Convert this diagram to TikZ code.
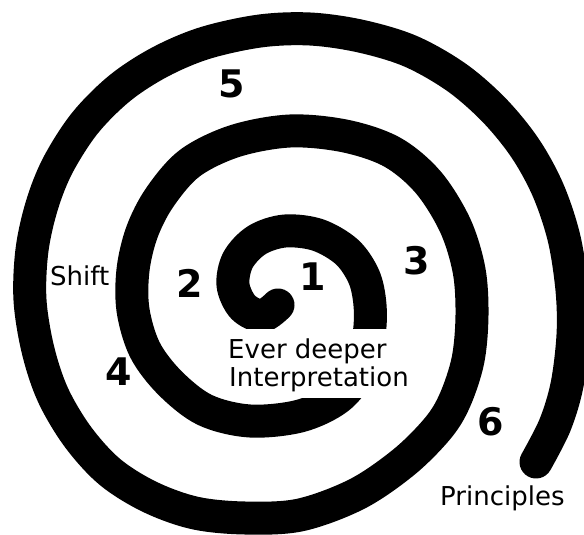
\documentclass[tikz,border=0pt]{standalone}
\usepackage{fontspec}
\newfontfamily\labfont{DejaVu Sans}
\begin{document}
\begin{tikzpicture}[x=1pt,y=-1pt,
  lbl/.style={font=\labfont\fontsize{26}{28}\selectfont, inner sep=0pt, text=black},
  num/.style={font=\labfont\bfseries\fontsize{38}{40}\selectfont, inner sep=0pt, text=black},
  brush/.style={line width=33pt, line cap=round, line join=round, black}]
\useasboundingbox (0,0) rectangle (584,535);
\fill[white] (0,0) rectangle (584,535);
% spiral
\draw[brush] plot[smooth, tension=0.55] coordinates {
(278,305) (262,316) (243,307) (233,285) (238,260) (257,240) (285,231) (318,235)
(347,252) (364,277) (370,305) (369,335) (360,370) (338,398) (300,416) (250,421)
(205,410) (170,383) (145,350) (133,310) (133,270) (142,232) (160,197) (190,163)
(235,141) (290,131) (345,136) (392,152) (428,182) (455,225) (469,270) (472,315)
(468,360) (455,400) (438,428) (404,462) (357,494) (300,515) (245,518) (195,513)
(150,497) (110,472) (78,437) (53,395) (38,350) (30,300) (32,250) (42,205)
(58,165) (85,123) (120,88) (160,62) (205,43) (260,31) (310,29) (360,36)
(410,51) (456,77) (494,110) (525,148) (548,190) (564,238) (572,290) (573,335)
(567,385) (555,425) (536,462)};
% white label box
\fill[white] (228,329) rectangle (418,398);
\node[lbl, anchor=base west] (ever) at (228,358) {Ever deeper};
\node[lbl, anchor=base west] (interp) at (229,386) {Interpretation};
\node[lbl, anchor=base west] (shift) at (50,285) {Shift};
\node[lbl, anchor=base west] (princ) at (440,505) {Principles};
% numbers
\node[num] (n1) at (313,277) {1};
\node[num] (n2) at (190,283) {2};
\node[num] (n3) at (417,261) {3};
\node[num] (n4) at (119,372) {4};
\node[num] (n5) at (232,84) {5};
\node[num] (n6) at (491,422) {6};
\end{tikzpicture}
\end{document}
